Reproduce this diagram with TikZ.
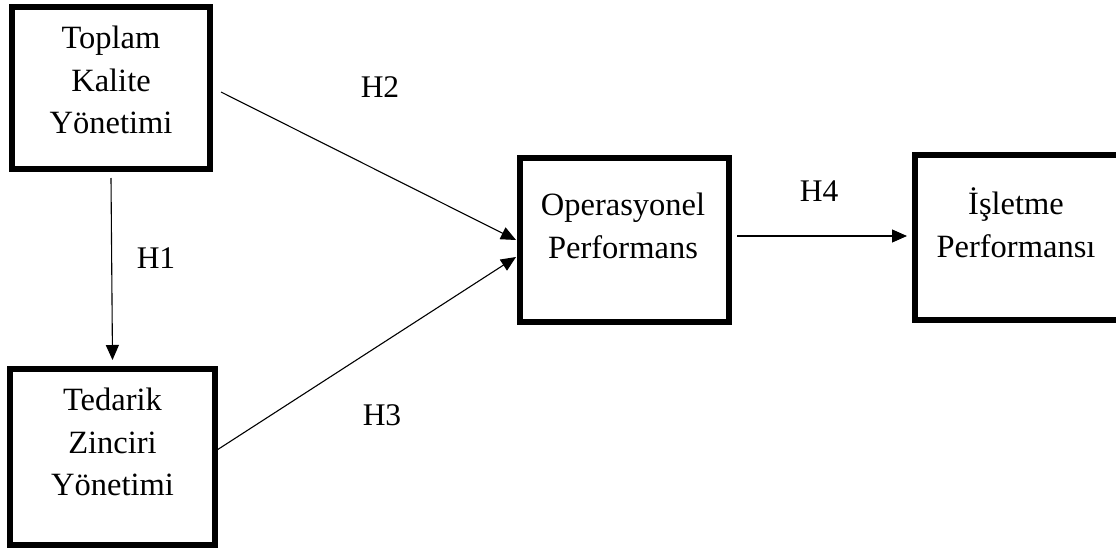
\documentclass[tikz,border=0pt]{standalone}
\usepackage{fontspec}
\setmainfont{Liberation Serif}
\usetikzlibrary{arrows.meta}
\begin{document}
\begin{tikzpicture}[x=1pt,y=-1pt,
  box/.style={draw=black,line width=6pt,minimum width=#1,inner sep=0pt},
  txt/.style={font=\fontsize{32.5}{42.5}\selectfont,align=center,inner sep=0pt,anchor=north},
  lbl/.style={font=\fontsize{31.5}{37}\selectfont,inner sep=0pt},
  arr/.style={line width=1.1pt,-{Triangle[length=15pt,width=13pt]}}]
\useasboundingbox (0,0) rectangle (1116,549);
% boxes
\node[box=198pt,minimum height=162pt] (tky) at (111,88) {};
\node[box=205pt,minimum height=176pt] (tzy) at (112.5,457) {};
\node[box=209pt,minimum height=164pt] (op) at (624.5,240) {};
\node[box=212pt,minimum height=165pt] (ip) at (1021,237.5) {};
% texts
\node[txt] (tkyT) at (111,25.8) {Toplam\\Kalite\\Yönetimi};
\node[txt] (tzyT) at (112.5,387.8) {Tedarik\\Zinciri\\Yönetimi};
\node[txt] (opT) at (623,192.8) {Operasyonel\\Performans};
\node[txt] (ipT) at (1016,187.7) {İşletme\\Performansı};
% connectors
\draw[arr] ([yshift=-6pt]tky.south) -- ([yshift=6pt]tzy.north);
\draw[arr] ([xshift=8pt,yshift=-4pt]tky.east) -- ([xshift=-1pt]op.west);
\draw[arr] ([xshift=-1pt,yshift=7pt]tzy.east) -- ([xshift=-1pt,yshift=-17pt]op.west);
\draw[arr] ([xshift=5pt,yshift=4pt]op.east) -- ([xshift=-5pt,yshift=1.5pt]ip.west);
% labels
\node[lbl] (h1) at (156,258) {H1};
\node[lbl] (h2) at (380,87) {H2};
\node[lbl] (h3) at (382,415) {H3};
\node[lbl] (h4) at (819,191) {H4};
\end{tikzpicture}
\end{document}
